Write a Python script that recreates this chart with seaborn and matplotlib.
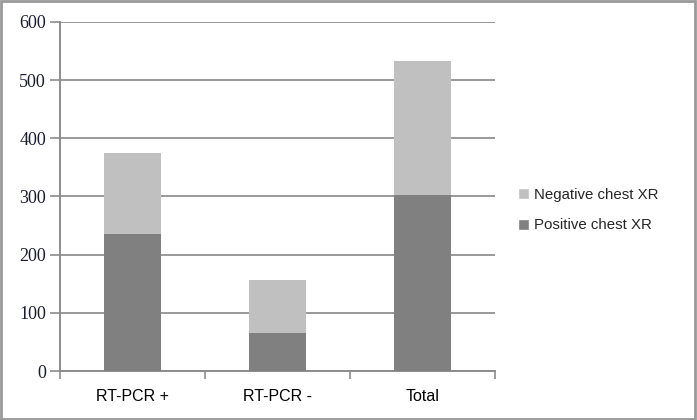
import matplotlib
matplotlib.use("Agg")
import matplotlib.pyplot as plt
import seaborn as sns
import pandas as pd
from matplotlib.patches import Patch, Rectangle

categories = ["RT-PCR +", "RT-PCR -", "Total"]
positive = [235, 65, 302]
negative = [139, 91, 231]
yticks = [0, 100, 200, 300, 400, 500, 600]

sns.set_theme(style="white")
plt.rcParams['font.family'] = ['Liberation Sans', 'DejaVu Sans']

totals = [p + n for p, n in zip(positive, negative)]
df = pd.DataFrame({"cat": categories, "pos": positive, "neg": negative, "tot": totals})

fig = plt.figure(figsize=(6.97, 4.2), dpi=100)
ax = fig.add_axes([60/697, 49/420, 435/697, 349/420])

sns.barplot(data=df, x="cat", y="tot", color="#c0c0c0", saturation=1, width=0.39, ax=ax,
            zorder=3, edgecolor="none", linewidth=0)
sns.barplot(data=df, x="cat", y="pos", color="#808080", saturation=1, width=0.39, ax=ax,
            zorder=3, edgecolor="none", linewidth=0)

ax.set_ylim(0, 600)
ax.set_xlim(-0.5, 2.5)
ax.set_yticks(yticks)
ax.set_yticklabels([str(t) for t in yticks], family='Liberation Serif', fontsize=13, color='#1c1c30')
ax.tick_params(axis='x', labelsize=11.5, length=0, pad=13, colors='black')
ax.tick_params(axis='y', length=7, width=1.2, color='#8c8c8c', left=True, pad=3)
ax.set_xlabel("")
ax.set_ylabel("")
ax.grid(axis='y', color='#999999', linewidth=1.4, zorder=0)
ax.set_axisbelow(True)
for s in ['top', 'right']:
    ax.spines[s].set_visible(False)
for s in ['left', 'bottom']:
    ax.spines[s].set_color('#8c8c8c')
    ax.spines[s].set_linewidth(1.4)
ax.set_xticks([0, 1, 2], minor=False)
ax.set_xticks([-0.5, 0.5, 1.5, 2.5], minor=True)
ax.tick_params(axis='x', which='minor', length=6, width=1.2, color='#8c8c8c', bottom=True)

handles = [Patch(facecolor="#c0c0c0", label="Negative chest XR"),
           Patch(facecolor="#808080", label="Positive chest XR")]
fig.legend(handles=handles, loc='center left', bbox_to_anchor=(512/697, 1 - 210/420),
           frameon=False, fontsize=10.8, handlelength=0.75, handleheight=0.75,
           handletextpad=0.3, labelspacing=1.1, borderaxespad=0)

fig.patches.append(Rectangle((0.002, 0.003), 0.995, 0.994, transform=fig.transFigure,
                             fill=False, edgecolor='#999999', linewidth=2))

fig.savefig("out.png", dpi=100)
